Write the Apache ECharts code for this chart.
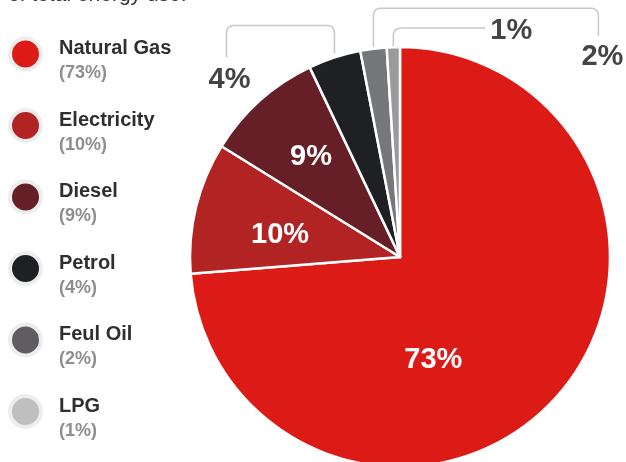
<!DOCTYPE html>
<html>
<head>
<meta charset="utf-8">
<script src="https://cdn.jsdelivr.net/npm/echarts@6/dist/echarts.min.js"></script>
<style>html,body{margin:0;padding:0;background:#fff}#c{width:626px;height:462px}</style>
</head>
<body>
<div id="c"></div>
<script>
const categories = ['Natural Gas', 'Electricity', 'Diesel', 'Petrol', 'Feul Oil', 'LPG'];
const values = [73, 10, 9, 4, 2, 1];
const percentLabels = ['73%', '10%', '9%', '4%', '2%', '1%'];
const sliceColors = ['#dc1b17', '#b22324', '#661e27', '#1f2024', '#76777b', '#9a9a9a'];
const legendColors = ['#dc1b17', '#b22324', '#661e27', '#1f2024', '#5f5d62', '#c0bfc0'];
const subtitleText = 'of total energy use.';

const FONT = '"Liberation Sans", Arial, Helvetica, sans-serif';

// label styling: inside offsets and bracket callouts (relative to slice anchor)
const insideOffsets = { 0: [-46, 30], 1: [-15, 3], 2: [-17, -20] };
const brackets = {
  3: { pts: [[0, -4], [0, -32], [-108, -32], [-108, 0]], label: [-105, 23], align: 'center' },
  4: { pts: [[0, -2], [0, -40.5], [225, -40.5], [225, -13]], label: [229, 8], align: 'center' },
  5: { pts: [[0, -1], [0, -19], [92, -19]], label: [97, -16], align: 'left' }
};

function roundedPolyline(pts, r) {
  const out = [pts[0]];
  for (let i = 1; i < pts.length - 1; i++) {
    const P = pts[i], A = pts[i - 1], B = pts[i + 1];
    const la = Math.hypot(A[0] - P[0], A[1] - P[1]);
    const lb = Math.hypot(B[0] - P[0], B[1] - P[1]);
    const rr = Math.min(r, la / 2, lb / 2);
    const s = [P[0] + (A[0] - P[0]) / la * rr, P[1] + (A[1] - P[1]) / la * rr];
    const e = [P[0] + (B[0] - P[0]) / lb * rr, P[1] + (B[1] - P[1]) / lb * rr];
    const n = 8;
    for (let k = 0; k <= n; k++) {
      const t = k / n;
      const x = (1 - t) * (1 - t) * s[0] + 2 * (1 - t) * t * P[0] + t * t * e[0];
      const y = (1 - t) * (1 - t) * s[1] + 2 * (1 - t) * t * P[1] + t * t * e[1];
      out.push([x, y]);
    }
  }
  out.push(pts[pts.length - 1]);
  return out;
}

const pieData = categories.map((name, i) => {
  const item = { name: name, value: values[i], itemStyle: { color: sliceColors[i] } };
  if (brackets[i]) {
    item.label = { position: 'outside', color: '#444444', fontSize: 29, fontWeight: 'bold' };
    item.labelLine = { show: true, length: 5, length2: 5 };
  } else {
    item.label = { position: 'inside', offset: insideOffsets[i] };
    item.labelLine = { show: false };
  }
  return item;
});

const chart = echarts.init(document.getElementById('c'), null, { renderer: 'canvas' });
chart.setOption({
  animation: false,
  backgroundColor: '#ffffff',
  title: {
    text: subtitleText,
    left: 3,
    top: -20,
    textStyle: { fontFamily: FONT, fontSize: 21, fontWeight: 'normal', color: '#333333' }
  },
  legend: {
    orient: 'vertical',
    left: 8,
    top: 24,
    padding: 0,
    itemGap: 13,
    itemWidth: 31,
    itemHeight: 31,
    icon: 'circle',
    selectedMode: false,
    itemStyle: { borderColor: '#eeeded', borderWidth: 4 },
    data: categories.map((n, i) => ({ name: n, itemStyle: { color: legendColors[i] } })),
    formatter: function (name) {
      const i = categories.indexOf(name);
      return '{s| }\n{n|' + name + '}\n{p|(' + percentLabels[i] + ')}';
    },
    textStyle: {
      padding: [0, 0, 0, 13],
      rich: {
        s: { fontSize: 10, lineHeight: 14 },
        n: { fontFamily: FONT, fontSize: 20, fontWeight: 'bold', color: '#2f2f33', lineHeight: 25 },
        p: { fontFamily: FONT, fontSize: 18, fontWeight: 'bold', color: '#8e8e8e', lineHeight: 25 }
      }
    }
  },
  series: [{
    type: 'pie',
    center: [400, 257],
    radius: [0, 210],
    startAngle: 90,
    clockwise: true,
    avoidLabelOverlap: false,
    silent: true,
    itemStyle: { borderColor: '#ffffff', borderWidth: 2.5 },
    label: {
      show: true,
      formatter: function (p) { return percentLabels[p.dataIndex]; },
      fontFamily: FONT,
      fontSize: 29,
      fontWeight: 'bold',
      color: '#ffffff'
    },
    labelLine: { lineStyle: { color: '#c8c8c8', width: 1.5 } },
    labelLayout: function (params) {
      const b = brackets[params.dataIndex];
      if (!b || !params.labelLinePoints) return {};
      const a = params.labelLinePoints[0];
      const pts = b.pts.map(p => [a[0] + p[0], a[1] + p[1]]);
      return {
        x: a[0] + b.label[0],
        y: a[1] + b.label[1],
        align: b.align,
        verticalAlign: 'middle',
        labelLinePoints: roundedPolyline(pts, 8)
      };
    },
    data: pieData
  }]
});
</script>
</body>
</html>
